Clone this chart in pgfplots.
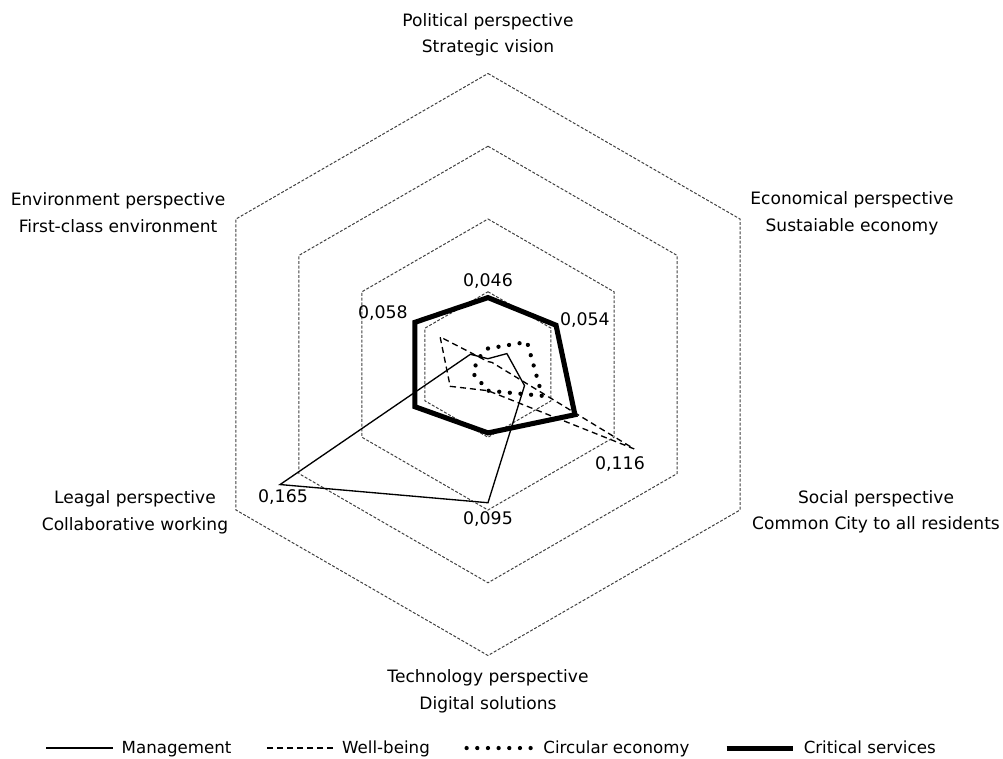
\documentclass[border=0pt]{standalone}
\usepackage{fontspec}
\setmainfont{DejaVu Sans}
\usepackage{pgfplots}
\pgfplotsset{compat=1.18}
\usepgfplotslibrary{polar}
\begin{document}
\begin{tikzpicture}
\useasboundingbox (-366pt,-295.125pt) rectangle (386.25pt,273.375pt);
\begin{polaraxis}[
  at={(0pt,0pt)}, anchor=center,
  scale only axis, width=436.5pt, height=436.5pt,
  ymin=0, ymax=0.2, xmin=0, xmax=360,
  hide axis, clip=false,
  legend columns=4,
  legend style={draw=none, fill=none, at={(0.507,-0.159)}, anchor=center,
    font=\fontsize{12.5}{14}\selectfont,
    /tikz/every odd column/.append style={column sep=4pt},
    /tikz/every even column/.append style={column sep=24pt}},
  legend image code/.code={\draw[#1] (0pt,0pt) -- (50pt,0pt);},
  gridline/.style={forget plot, black!75, line width=0.75pt, dash pattern=on 2.2pt off 1.3pt},
]
\addplot[gridline] coordinates {(90,0.2)(30,0.2)(330,0.2)(270,0.2)(210,0.2)(150,0.2)} -- cycle;
\addplot[gridline] coordinates {(90,0.15)(30,0.15)(330,0.15)(270,0.15)(210,0.15)(150,0.15)} -- cycle;
\addplot[gridline] coordinates {(90,0.1)(30,0.1)(330,0.1)(270,0.1)(210,0.1)(150,0.1)} -- cycle;
\addplot[gridline] coordinates {(90,0.05)(30,0.05)(330,0.05)(270,0.05)(210,0.05)(150,0.05)} -- cycle;

\addplot[black, line width=1pt] coordinates {(90,0.004)(30,0.015)(330,0.029)(270,0.095)(210,0.165)(150,0.014)} -- cycle;
\addlegendentry{Management}
\addplot[black, line width=1pt, dash pattern=on 4.5pt off 3pt] coordinates {(90,0.002)(30,0.003)(330,0.116)(270,0.018)(210,0.030)(150,0.038)} -- cycle;
\addlegendentry{Well-being}
\addplot[black, line width=3.2pt, line cap=round, dash pattern=on 0pt off 8pt] coordinates {(90,0.011)(30,0.031)(330,0.043)(270,0.018)(210,0.012)(150,0.008)} -- cycle;
\addlegendentry{Circular economy}
\addplot[black, line width=3.8pt, line join=miter] coordinates {(90,0.046)(30,0.054)(330,0.069)(270,0.047)(210,0.058)(150,0.058)} -- cycle;
\addlegendentry{Critical services}

\begin{scope}[every node/.style={font=\fontsize{12.8}{20}\selectfont, align=center}]
\node at (axis cs:90,0.2265) {Political perspective\\Strategic vision};
\node at (axis cs:22.6,0.271) {Economical perspective\\Sustaiable economy};
\node at (axis cs:339.2,0.2853) {Social perspective\\Common City to all residents};
\node at (axis cs:270,0.2244) {Technology perspective\\Digital solutions};
\node at (axis cs:202.7,0.263) {Leagal perspective\\Collaborative working};
\node at (axis cs:157.7,0.2748) {Environment perspective\\First-class environment};
\end{scope}
\begin{scope}[every node/.style={font=\fontsize{13}{15}\selectfont}]
\node at (axis cs:90,0.0574) {0,046};
\node at (axis cs:24.6,0.0733) {0,054};
\node at (axis cs:153.9,0.0804) {0,058};
\node at (axis cs:323,0.1136) {0,116};
\node at (axis cs:270,0.1062) {0,095};
\node at (axis cs:212.9,0.1678) {0,165};
\end{scope}
\end{polaraxis}
\end{tikzpicture}
\end{document}
